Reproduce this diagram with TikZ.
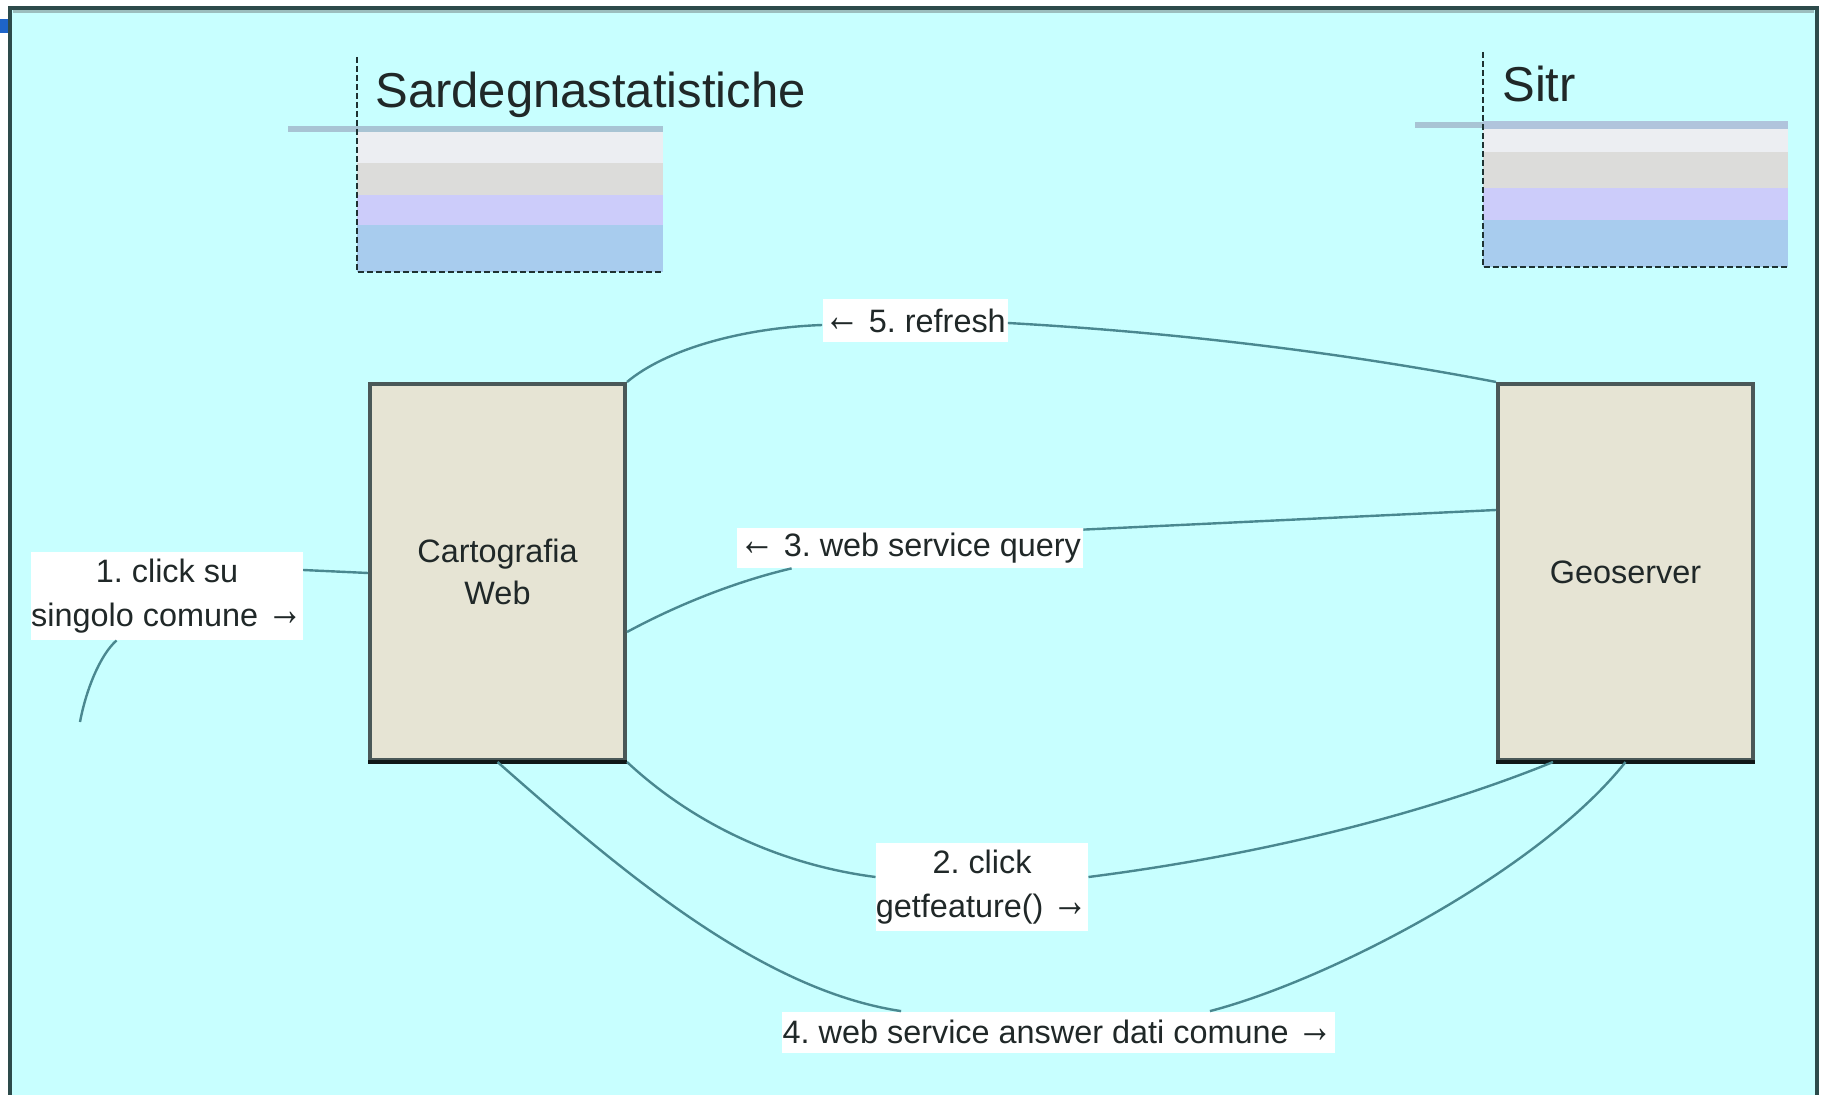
\documentclass[tikz,border=0pt]{standalone}
\usepackage{fontspec}
\setmainfont{Liberation Sans}
\usetikzlibrary{calc}
\newcommand{\myrarr}{\raisebox{0.04em}{\scalebox{1.1}[1.45]{→}}}
\newcommand{\mylarr}{\raisebox{0.04em}{\scalebox{1.1}[1.45]{←}}}
\definecolor{bgcyan}{HTML}{C8FFFF}
\definecolor{framec}{HTML}{2D4B4B}
\definecolor{framelight}{HTML}{9CBEBE}
\definecolor{tabblue}{HTML}{1E64C8}
\definecolor{boxfill}{HTML}{E6E4D4}
\definecolor{boxborder}{HTML}{4A5858}
\definecolor{boxbottom}{HTML}{101818}
\definecolor{connc}{HTML}{4A8890}
\definecolor{textc}{HTML}{202828}
\definecolor{dashc}{HTML}{1E3232}
\definecolor{barc}{HTML}{A8C4D4}
\definecolor{bandtop}{HTML}{B0C4DC}
\definecolor{bandA}{HTML}{ECEEF2}
\definecolor{bandB}{HTML}{DCDCDA}
\definecolor{bandC}{HTML}{CCCCFA}
\definecolor{bandD}{HTML}{A8CCEE}
\begin{document}
\begin{tikzpicture}[x=0.5pt,y=-0.5pt,
  sysbox/.style={draw=boxborder, line width=2pt, fill=boxfill, minimum width=127.5pt, minimum height=188pt, inner sep=0pt, font=\fontsize{16.2}{21}\selectfont, align=center, text=textc},
  lbl/.style={fill=white, inner sep=0pt, font=\fontsize{16.2}{22}\selectfont\frenchspacing, align=center, text=textc},
  titletext/.style={inner sep=0pt, font=\fontsize{24.5}{28}\selectfont, text=textc},
  conn/.style={draw=connc, line width=1.2pt},
  lifedash/.style={draw=dashc, line width=0.9pt, dash pattern=on 3pt off 1.5pt}]
\useasboundingbox (0,0) rectangle (1824,1095);
\fill[white] (0,0) rectangle (1824,1095);
\fill[bgcyan] (10,8) rectangle (1817,1095);
\draw[framelight, line width=1.5pt] (13,12) -- (1814,12);
\draw[framec, line width=1.6pt] (10,1095) -- (10,8) -- (1817,8) -- (1817,1095);
\fill[tabblue] (0,19) rectangle (8,33);

% Sardegnastatistiche lifeline
\fill[bandA] (357,132) rectangle (663,163);
\fill[bandB] (357,163) rectangle (663,195);
\fill[bandC] (357,195) rectangle (663,225);
\fill[bandD] (357,225) rectangle (663,272);
\fill[barc] (288,126) rectangle (663,132);
\draw[lifedash] (357,57) -- (357,272) -- (663,272);
\node[titletext, anchor=base west] (sard) at (375,108) {Sardegnastatistiche};

% Sitr lifeline
\fill[bandtop] (1483,121) rectangle (1788,129);
\fill[bandA] (1483,129) rectangle (1788,152);
\fill[bandB] (1483,152) rectangle (1788,188);
\fill[bandC] (1483,188) rectangle (1788,220);
\fill[bandD] (1483,220) rectangle (1788,267);
\fill[barc] (1415,122) rectangle (1483,128);
\draw[lifedash] (1483,52) -- (1483,267) -- (1788,267);
\node[titletext, anchor=base west] (sitr) at (1502,102) {Sitr};

% main boxes
\node[sysbox] (cw) at (497.5,572) {Cartografia\\Web};
\node[sysbox] (geo) at (1625.5,572) {Geoserver};
\draw[boxbottom, line width=2pt] (cw.south west) -- (cw.south east);
\draw[boxbottom, line width=2pt] (geo.south west) -- (geo.south east);

% labels
\node[lbl, minimum width=135pt, minimum height=44pt] (l1) at (167,596) {1. click su\\singolo comune \myrarr};
\node[lbl, minimum width=92.5pt, minimum height=21.5pt] (l5) at (915,321) {\mylarr{} 5. refresh};
\node[lbl, minimum width=173pt, minimum height=20pt] (l3) at (910,548) {\mylarr{} 3. web service query};
\node[lbl, minimum width=106pt, minimum height=44pt] (l2) at (982,887) {2. click\\getfeature() \myrarr};
\node[lbl, minimum width=276.5pt, minimum height=20.5pt] (l4) at (1058,1032) {4. web service answer dati comune \myrarr};

% connectors
\coordinate (s1) at (80,722);
\draw[conn] (s1) .. controls (86,690) and (100,655) .. (l1);
\draw[conn] ($(l1.east)+(0,-26)$) -- ($(cw.west)+(0,1)$);

\draw[conn] (cw.north east) .. controls (665,350) and (740,328) .. ($(l5.west)+(0,4)$);
\draw[conn] ($(l5.east)+(0,2)$) .. controls (1170,332) and (1340,352) .. (geo.north west);

\draw[conn] ($(cw.east)+(0,60)$) .. controls (690,598) and (750,578) .. ($(l3.south west)+(55,0)$);
\draw[conn] ($(l3.north east)+(0,2)$) -- ($(geo.west)+(0,-62)$);

\draw[conn] (cw.south east) .. controls (700,830) and (790,866) .. ($(l2.west)+(0,-10)$);
\draw[conn] ($(l2.east)+(0,-10)$) .. controls (1300,850) and (1460,800) .. ($(geo.south west)+(57,0)$);

\draw[conn] (cw.south) .. controls (620,870) and (760,990) .. ($(l4.north west)+(120,0)$);
\draw[conn] ($(l4.north east)+(-125,0)$) .. controls (1330,980) and (1540,870) .. (geo.south);
\end{tikzpicture}
\end{document}
